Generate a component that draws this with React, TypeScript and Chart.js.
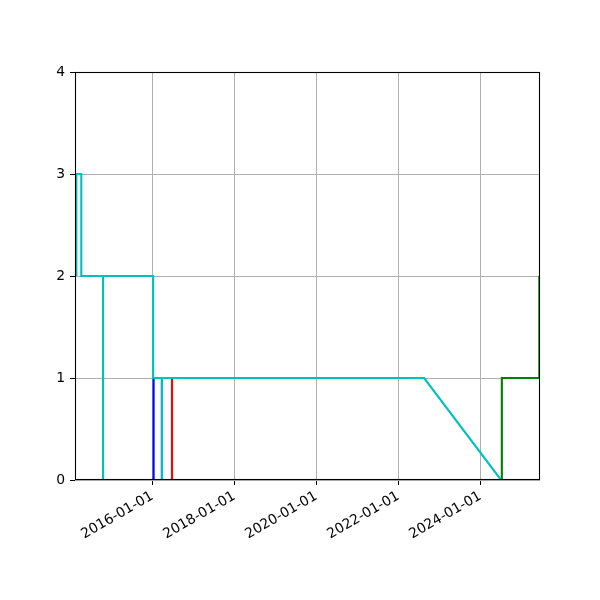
import React, { useEffect, useRef } from "react";
import { Chart, registerables } from "chart.js";

Chart.register(...registerables);

// axis range and ticks
const xStart = "2014-02-11";
const xEnd = "2025-06-15";
const xTickDates = ["2016-01-01", "2018-01-01", "2020-01-01", "2022-01-01", "2024-01-01"];
const yMin = 0;
const yMax = 4;

// series (step-like counts over time)
const blueDates = ["2016-01-12", "2016-01-12", "2016-03-26", "2016-03-26"];
const blueValues = [0, 1, 1, 0];

const redDates = ["2014-02-11", "2016-06-24", "2016-06-24"];
const redValues = [0, 0, 1];

const greenDates = ["2016-06-24", "2024-07-10", "2024-07-10", "2025-06-09", "2025-06-09"];
const greenValues = [0, 0, 1, 1, 2];

const cyanDates = [
  "2014-02-23", "2014-02-23", "2014-04-08", "2014-04-08",
  "2014-10-19", "2014-10-19", "2014-10-19",
  "2016-01-08", "2016-01-08",
  "2016-03-27", "2016-03-27", "2016-03-27",
  "2022-08-18", "2024-07-03", "2025-06-15",
];
const cyanValues = [2, 3, 3, 2, 2, 0, 2, 2, 1, 1, 0, 1, 1, 0, 0];

const toPoints = (dates: string[], values: number[]) =>
  dates.map((d, i) => ({ x: Date.parse(d), y: values[i] }));

const FONT = { family: "DejaVu Sans", size: 13.9 };

// matplotlib-like frame on all four sides, drawn over the lines
const boxPlugin = {
  id: "box",
  afterDatasetsDraw(chart: any) {
    const { ctx, chartArea } = chart;
    const left = Math.round(chartArea.left) + 0.5;
    const top = Math.round(chartArea.top) + 0.5;
    const right = Math.round(chartArea.right) - 0.5;
    const bottom = Math.round(chartArea.bottom) - 0.5;
    ctx.save();
    ctx.strokeStyle = "#000";
    ctx.lineWidth = 1.1;
    ctx.strokeRect(left, top, right - left, bottom - top);
    ctx.restore();
  },
};

const StepChart: React.FC = () => {
  const chartRef = useRef<HTMLCanvasElement>(null);

  useEffect(() => {
    if (!chartRef.current) return;

    const line = (data: any[], color: string) => ({
      data,
      borderColor: color,
      backgroundColor: color,
      borderWidth: 2.1,
      pointRadius: 0,
      tension: 0,
      fill: false,
    });

    // first dataset is drawn on top
    const chartInstance = new Chart(chartRef.current, {
      type: "line",
      data: {
        datasets: [
          line(toPoints(cyanDates, cyanValues), "#00bfbf"),
          line(toPoints(greenDates, greenValues), "#008000"),
          line(toPoints(redDates, redValues), "#ff0000"),
          line(toPoints(blueDates, blueValues), "#0000ff"),
        ],
      },
      options: {
        responsive: false,
        animation: false,
        layout: { padding: { top: 72, right: 60, left: 0, bottom: 0 } },
        plugins: {
          legend: { display: false },
          tooltip: { enabled: false },
        },
        scales: {
          x: {
            type: "linear",
            min: Date.parse(xStart),
            max: Date.parse(xEnd),
            afterBuildTicks: (scale: any) => {
              scale.ticks = xTickDates.map((d) => ({ value: Date.parse(d) }));
            },
            afterFit: (scale: any) => {
              scale.height = 120;
            },
            grid: {
              color: "#b0b0b0",
              lineWidth: 1,
              tickColor: "#000",
              tickLength: 5,
            },
            border: { display: false },
            ticks: {
              autoSkip: false,
              minRotation: 30,
              maxRotation: 30,
              padding: 3,
              color: "#000",
              font: FONT,
              callback: (value: any) => new Date(value).toISOString().slice(0, 10),
            },
          },
          y: {
            min: yMin,
            max: yMax,
            afterFit: (scale: any) => {
              scale.width = 75;
            },
            grid: {
              color: "#b0b0b0",
              lineWidth: 1,
              tickColor: "#000",
              tickLength: 5,
            },
            border: { display: false },
            ticks: {
              stepSize: 1,
              padding: 5,
              color: "#000",
              font: FONT,
            },
          },
        },
      } as any,
      plugins: [boxPlugin],
    });

    return () => {
      chartInstance.destroy();
    };
  }, []);

  return <canvas ref={chartRef} width={600} height={600} />;
};

export default function App() {
  return (
    <div style={{ position: "absolute", left: 0, top: 0, width: 600, height: 600, background: "#fff" }}>
      <StepChart />
    </div>
  );
}
